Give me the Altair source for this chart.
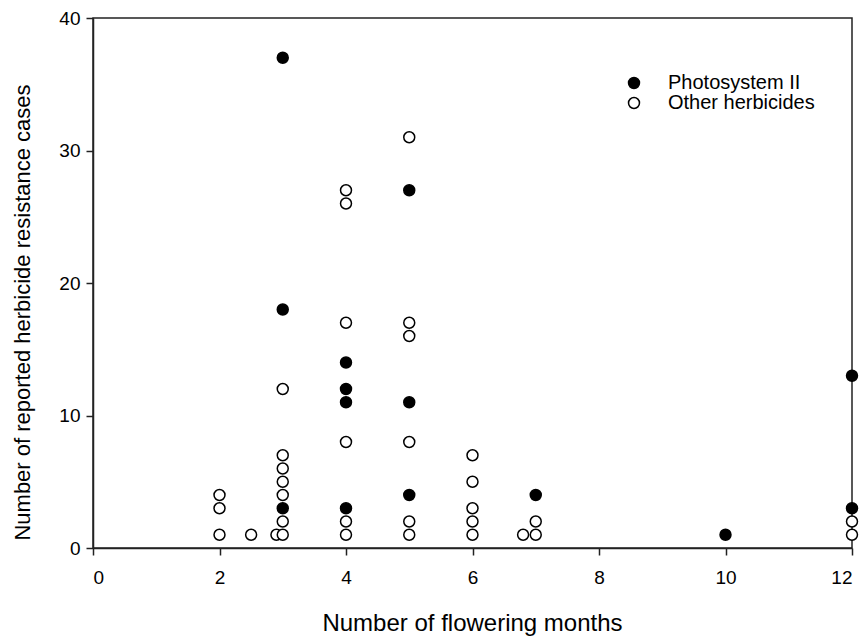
import altair as alt
import pandas as pd

# Herbicide resistance cases vs. flowering duration
psii_months = [3, 3, 3, 4, 4, 4, 4, 5, 5, 5, 7, 10, 12, 12]
psii_cases = [3, 18, 37, 3, 11, 12, 14, 4, 11, 27, 4, 1, 3, 13]

other_months = [2, 2, 2, 2.5, 2.9,
                3, 3, 3, 3, 3, 3, 3,
                4, 4, 4, 4, 4, 4,
                5, 5, 5, 5, 5, 5,
                6, 6, 6, 6, 6,
                6.8, 7, 7,
                12, 12]
other_cases = [1, 3, 4, 1, 1,
               1, 2, 4, 5, 6, 7, 12,
               1, 2, 8, 17, 26, 27,
               1, 2, 8, 16, 17, 31,
               1, 2, 3, 5, 7,
               1, 1, 2,
               1, 2]

groups = ["Photosystem II", "Other herbicides"]

df = pd.concat([
    pd.DataFrame({"months": other_months, "cases": other_cases, "group": groups[1], "order": 0}),
    pd.DataFrame({"months": psii_months, "cases": psii_cases, "group": groups[0], "order": 1}),
], ignore_index=True)

points = alt.Chart(df).mark_point(
    shape="circle", filled=True, size=120, stroke="black", strokeWidth=1.5, opacity=1
).encode(
    x=alt.X("months:Q",
            scale=alt.Scale(domain=[0, 12], nice=False),
            axis=alt.Axis(title="Number of flowering months", values=[0, 2, 4, 6, 8, 10, 12],
                          grid=False, labelPadding=13, titleFontSize=24,
                          titleX=379, titleY=75, titleBaseline="middle", titleAlign="center")),
    y=alt.Y("cases:Q",
            scale=alt.Scale(domain=[0, 40], nice=False),
            axis=alt.Axis(title="Number of reported herbicide resistance cases",
                          values=[0, 10, 20, 30, 40], grid=False, labelPadding=6,
                          titleFontSize=22, titleX=-71, titleY=294,
                          titleBaseline="middle", titleAlign="center")),
    fill=alt.Fill("group:N",
                  scale=alt.Scale(domain=groups, range=["black", "white"]),
                  legend=alt.Legend(title=None, orient="none", legendX=531, legendY=55,
                                    symbolStrokeColor="black", symbolStrokeWidth=1.5,
                                    symbolSize=120, symbolType="circle",
                                    labelFontSize=20, labelFont="Liberation Sans",
                                    labelColor="black", labelOffset=24, rowPadding=0)),
    order=alt.Order("order:Q"),
)

chart = points.properties(
    width=759, height=530,
    background="white",
    autosize=alt.AutoSizeParams(type="none"),
    padding={"left": 93, "top": 18, "right": 12, "bottom": 89},
).configure_view(
    stroke="#222222", strokeWidth=1.5
).configure_axis(
    domainColor="#222222", domainWidth=1.5, tickColor="#222222", tickWidth=1.5,
    tickSize=7, labelFont="Liberation Sans", labelFontSize=19, labelColor="black",
    titleFont="Liberation Sans", titleFontWeight="normal", titleColor="black",
)

chart.save("out.html", embed_options={"renderer": "svg", "actions": False})
